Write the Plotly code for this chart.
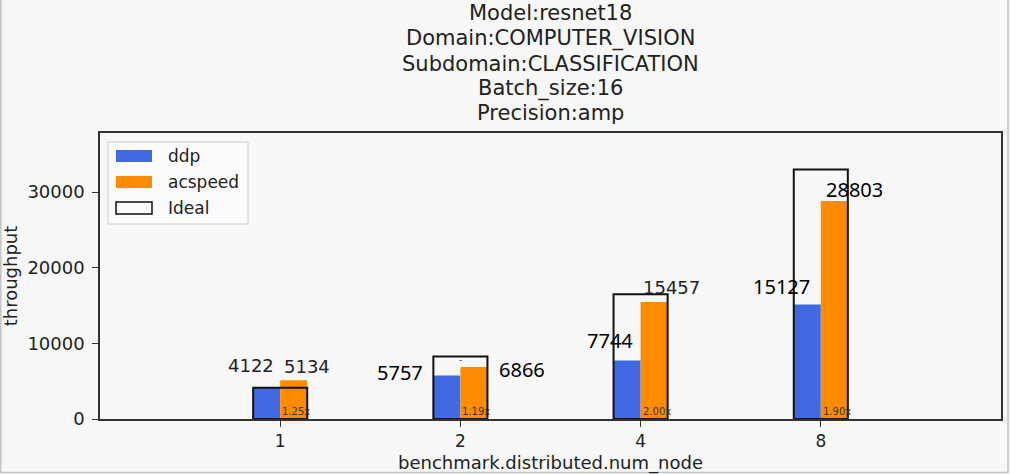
import plotly.graph_objects as go

# ---- data ----
nodes = ["1", "2", "4", "8"]
ddp = [4122, 5757, 7744, 15127]
acspeed = [5134, 6866, 15457, 28803]
ideal = [4122, 8244, 16488, 32976]
speedup_labels = ["1.25x", "1.19x", "2.00x", "1.90x"]

title_lines = ["Model:resnet18", "Domain:COMPUTER_VISION", "Subdomain:CLASSIFICATION",
               "Batch_size:16", "Precision:amp"]
x_title = "benchmark.distributed.num_node"
y_title = "throughput"

# ---- styling ----
W, H = 1010, 474
L, R, T, B = 100, 9, 133, 55
BG = "#f7f7f7"
BLUE = "#4169e1"
ORANGE = "#ff8c00"
FONT = "DejaVu Sans"
TXT = "#222"

fig = go.Figure()
x_idx = list(range(len(nodes)))

fig.add_trace(go.Bar(x=x_idx, y=ddp, offset=-0.15, width=0.15, marker_color=BLUE,
                     marker_line_width=0, name="ddp", showlegend=False))
fig.add_trace(go.Bar(x=x_idx, y=acspeed, offset=0.0, width=0.15, marker_color=ORANGE,
                     marker_line_width=0, name="acspeed", showlegend=False))
fig.add_trace(go.Bar(x=x_idx, y=ideal, offset=-0.15, width=0.30, marker_color="rgba(0,0,0,0)",
                     marker_line=dict(color="#111", width=2), name="Ideal", showlegend=False))

# value label placement (px shifts relative to bar value / category centre) and styles
ddp_label_style = [(-29, 22, "s"), (-60, 3, "b"), (-31, 20, "b"), (-39, 18, "b")]
acs_label_style = [(27, 14, "s"), (62, -2, "b"), (31, 15, "s"), (34, 12, "b")]

def label_font(kind):
    if kind == "s":
        return dict(family=FONT, size=18, color=TXT)
    return dict(family="Noto Sans", size=20, color="#000")

annotations = []
for i in x_idx:
    dx, dy, k = ddp_label_style[i]
    annotations.append(dict(x=i, y=ddp[i], xref="x", yref="y", text=str(ddp[i]),
                            showarrow=False, xshift=dx, yshift=dy, font=label_font(k)))
    dx, dy, k = acs_label_style[i]
    annotations.append(dict(x=i, y=acspeed[i], xref="x", yref="y", text=str(acspeed[i]),
                            showarrow=False, xshift=dx, yshift=dy, font=label_font(k)))
    annotations.append(dict(x=i, y=0, xref="x", yref="y", text=speedup_labels[i],
                            showarrow=False, xanchor="left", yanchor="bottom", xshift=0, yshift=0,
                            font=dict(family=FONT, size=10, color="#333")))
# small dash artefact inside the 2-node ideal box
annotations.append(dict(x=1, y=ideal[1], xref="x", yref="y", text="-", showarrow=False,
                        xshift=0, yshift=-3, font=dict(family=FONT, size=9, color="#333")))

# ---- pixel -> paper helpers ----
pw, ph = W - L - R, H - T - B
def px(xp):
    return (xp - L) / pw
def py(yp):
    return (H - B - yp) / ph

# ---- title (one annotation per line for matplotlib-like spacing) ----
title_y = [13.5, 38.5, 63.5, 88.5, 113]
for line, yc in zip(title_lines, title_y):
    annotations.append(dict(xref="paper", yref="paper", x=0.5, y=py(yc), text=line,
                            showarrow=False, xanchor="center", yanchor="middle",
                            font=dict(family=FONT, size=21, color=TXT)))

# x axis title
annotations.append(dict(xref="paper", yref="paper", x=0.5, y=py(463), text=x_title,
                        showarrow=False, xanchor="center", yanchor="middle",
                        font=dict(family=FONT, size=18, color=TXT)))

# ---- manual legend ----
shapes = []
shapes.append(dict(type="rect", xref="paper", yref="paper", x0=px(108), x1=px(248), y0=py(224), y1=py(142),
                   line=dict(color="#cccccc", width=1), fillcolor="#fbfbfb", layer="above"))
legend_items = [("ddp", BLUE, None, 156), ("acspeed", ORANGE, None, 182), ("Ideal", "rgba(0,0,0,0)", "#111", 208)]
for name, fill, edge, yc in legend_items:
    shapes.append(dict(type="rect", xref="paper", yref="paper", x0=px(116), x1=px(152),
                       y0=py(yc + 6), y1=py(yc - 6), fillcolor=fill, layer="above",
                       line=dict(color=edge if edge else fill, width=1.5 if edge else 0)))
    annotations.append(dict(xref="paper", yref="paper", x=px(166), y=py(yc), text=name,
                            showarrow=False, xanchor="left", yanchor="middle",
                            font=dict(family=FONT, size=17, color=TXT)))

# screenshot frame
shapes.append(dict(type="rect", xref="paper", yref="paper", x0=px(0.8), x1=px(1008), y0=py(472.5), y1=py(-2),
                   line=dict(color="#c4c4c4", width=1.5), fillcolor="rgba(0,0,0,0)", layer="above"))

fig.update_layout(
    width=W, height=H,
    margin=dict(l=L, r=R, t=T, b=B, autoexpand=False),
    paper_bgcolor=BG, plot_bgcolor=BG,
    barmode="overlay",
    font=dict(family=FONT, size=18, color=TXT),
    shapes=shapes,
    annotations=annotations,
    showlegend=False,
)
fig.update_xaxes(
    range=[-1, 4], tickmode="array", tickvals=x_idx, ticktext=nodes,
    showline=True, linecolor="#333", linewidth=1.5, mirror=True,
    ticks="outside", ticklen=6, tickwidth=1.2, tickcolor="#333",
    showgrid=False, zeroline=False, ticklabelstandoff=0, automargin=False,
    tickfont=dict(family=FONT, size=17, color=TXT),
)
fig.update_yaxes(
    range=[0, 37800], tickvals=[0, 10000, 20000, 30000], tickformat="d",
    showline=True, linecolor="#333", linewidth=1.5, mirror=True,
    ticks="outside", ticklen=6, tickwidth=1.2, tickcolor="#333",
    showgrid=False, zeroline=False, ticklabelstandoff=4, automargin=False,
    tickfont=dict(family=FONT, size=18, color=TXT),
    title=dict(text=y_title, standoff=6,
               font=dict(family=FONT, size=18, color=TXT)),
)

fig.write_html("out.html", config={"displayModeBar": False},
               post_script="document.body.style.margin='0';document.body.style.padding='0';")
